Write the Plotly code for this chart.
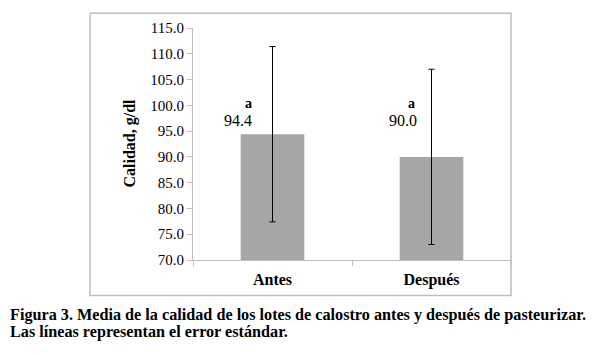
import plotly.graph_objects as go

# ---- data ----
categories = ["Antes", "Después"]
means = [94.4, 90.0]
std_err = [17.0, 17.0]
letters = ["a", "a"]
y_ticks = [70, 75, 80, 85, 90, 95, 100, 105, 110, 115]

# ---- layout geometry (target px in the 600x355 window) ----
OFF = 8  # default page body margin
W, H = 600 - OFF, 355 - OFF
L, R, T, B = 193 - OFF, 89, 25 - OFF, 95
PW, PH = W - L - R, H - T - B


def px(x):
    return (x - OFF - L) / PW


def py(y):
    return (H - B - (y - OFF)) / PH


SERIF = "Liberation Serif, Times New Roman, serif"
GREY_LINE = "#bfbfbf"

fig = go.Figure()
fig.add_trace(go.Bar(
    x=categories,
    y=means,
    marker=dict(color="#a6a6a6", line=dict(width=0)),
    error_y=dict(type="data", array=std_err, color="black", thickness=1, width=3),
    showlegend=False,
    hoverinfo="skip",
))

LABEL_LEVEL = 97.1
LETTER_LEVEL = 100.4
label_shift = [-35, -29]
letter_shift = [-24, -20]

annotations = []
for i, c in enumerate(categories):
    annotations.append(dict(
        x=c, y=LABEL_LEVEL, xref="x", yref="y", text=f"{means[i]:.1f}",
        showarrow=False, xshift=label_shift[i],
        font=dict(family=SERIF, size=16, color="black"),
    ))
    annotations.append(dict(
        x=c, y=LETTER_LEVEL, xref="x", yref="y", text=letters[i],
        showarrow=False, xshift=letter_shift[i],
        font=dict(family=SERIF, size=14, color="black", weight="bold"),
    ))

# y axis title
annotations.append(dict(
    x=px(130), y=py(142), xref="paper", yref="paper", text="Calidad, g/dl",
    textangle=-90, showarrow=False, xanchor="center", yanchor="middle",
    font=dict(family=SERIF, size=16, color="black", weight="bold"),
))

# caption
annotations.append(dict(
    x=px(8), y=py(316), xref="paper", yref="paper",
    text="Figura 3. Media de la calidad de los lotes de calostro antes y después de pasteurizar.",
    showarrow=False, xanchor="left", yanchor="middle",
    font=dict(family=SERIF, size=16.2, color="black", weight="bold"),
))
annotations.append(dict(
    x=px(8), y=py(333), xref="paper", yref="paper",
    text="Las líneas representan el error estándar.",
    showarrow=False, xanchor="left", yanchor="middle",
    font=dict(family=SERIF, size=16.2, color="black", weight="bold"),
))

fig.update_layout(
    width=W, height=H,
    margin=dict(l=L, r=R, t=T, b=B, pad=0),
    paper_bgcolor="white", plot_bgcolor="white",
    bargap=0.6,
    annotations=annotations,
    shapes=[dict(
        type="rect", xref="paper", yref="paper",
        x0=px(90), x1=px(511), y0=py(296), y1=py(10),
        line=dict(color=GREY_LINE, width=1.5), fillcolor="rgba(0,0,0,0)",
        layer="below",
    )],
    xaxis=dict(
        showline=True, linecolor=GREY_LINE, linewidth=1,
        ticks="outside", tickson="boundaries", ticklen=5, tickcolor=GREY_LINE,
        showgrid=False, zeroline=False, ticklabelstandoff=5,
        tickfont=dict(family=SERIF, size=16, color="black", weight="bold"),
    ),
    yaxis=dict(
        range=[70, 115], tickvals=y_ticks, tickformat=".1f",
        showline=True, linecolor=GREY_LINE, linewidth=1,
        ticks="outside", ticklen=5, tickcolor=GREY_LINE,
        showgrid=False, zeroline=False,
        tickfont=dict(family=SERIF, size=15, color="black"),
    ),
)

fig.write_html("out.html")
